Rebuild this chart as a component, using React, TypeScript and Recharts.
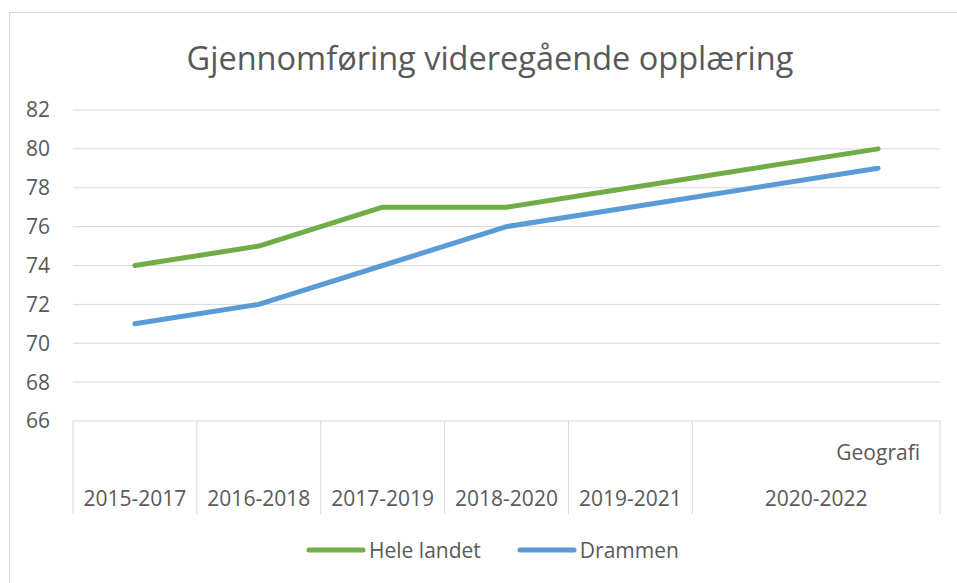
import { LineChart, Line, XAxis, YAxis, CartesianGrid, Legend } from 'recharts';

const periods = ['2015-2017', '2016-2018', '2017-2019', '2018-2020', '2019-2021', '2020-2022', '2020-2022'];
const subLabels = ['', '', '', '', '', '', 'Geografi'];
const seriesNames = ['Hele landet', 'Drammen'];
const heleLandet = [74, 75, 77, 77, 78, null, 80];
const drammen = [71, 72, 74, 76, 77, null, 79];
const yTicks = [66, 68, 70, 72, 74, 76, 78, 80, 82];

const data = periods.map((p, i) => ({
  slot: `${p}-${i}`,
  hele: heleLandet[i],
  drammen: drammen[i],
}));

const FONT = '"Open Sans", sans-serif';
const TEXT = '#595959';
const GRID = '#d9d9d9';
const WIDTH = 957;
const HEIGHT = 583;
const PLOT_LEFT = 73;
const PLOT_RIGHT = 940;
const Y_AXIS_W = 60;
const X_AXIS_H = 100;
const SLOT = (PLOT_RIGHT - PLOT_LEFT) / periods.length;

function CategoryTick(props: any) {
  const { x, y, payload } = props;
  const i = payload.index ?? props.index;
  const period = periods[i];
  const first = i === 0 || periods[i - 1] !== period;
  let end = i;
  while (end + 1 < periods.length && periods[end + 1] === period) end++;
  const left = x - SLOT / 2;
  const bottom = y + 93;
  const center = x + ((end - i) * SLOT) / 2;
  return (
    <g>
      {first && <line x1={left} x2={left} y1={y} y2={bottom} stroke={GRID} />}
      {i === periods.length - 1 && (
        <line x1={x + SLOT / 2} x2={x + SLOT / 2} y1={y} y2={bottom} stroke={GRID} />
      )}
      {first && (
        <text x={center} y={y + 85} textAnchor="middle" fill={TEXT} fontSize={21} fontFamily={FONT}>
          {period}
        </text>
      )}
      {subLabels[i] && (
        <text x={x + SLOT / 2 - 20} y={y + 39} textAnchor="end" fill={TEXT} fontSize={21} fontFamily={FONT}>
          {subLabels[i]}
        </text>
      )}
    </g>
  );
}

function LegendContent(props: any) {
  const items = [...(props.payload || [])].sort(
    (a: any, b: any) => seriesNames.indexOf(a.value) - seriesNames.indexOf(b.value)
  );
  return (
    <div style={{ display: 'flex', alignItems: 'center', height: 30, fontFamily: FONT, fontSize: 21, color: TEXT }}>
      {items.map((it: any, k: number) => (
        <div key={it.value} style={{ display: 'flex', alignItems: 'center', marginLeft: k === 0 ? 0 : 36 }}>
          <svg width={60} height={10} style={{ display: 'block' }}>
            <line x1={3} x2={57} y1={5} y2={5} stroke={it.color} strokeWidth={5} strokeLinecap="round" />
          </svg>
          <span style={{ marginLeft: 3, lineHeight: '30px' }}>{it.value}</span>
        </div>
      ))}
    </div>
  );
}

export default function App() {
  return (
    <div style={{ position: 'absolute', left: 0, top: 0, width: WIDTH, height: HEIGHT, overflow: 'hidden', background: '#fff' }}>
      <div style={{ position: 'absolute', left: 9, top: 12, width: 1000, height: 1000, border: `1px solid ${GRID}` }} />
      <div
        style={{
          position: 'absolute',
          left: 0,
          top: 42,
          width: 980,
          textAlign: 'center',
          fontFamily: FONT,
          fontSize: 32.5,
          lineHeight: '32px',
          color: TEXT,
          whiteSpace: 'nowrap',
        }}
      >
        Gjennomføring videregående opplæring
      </div>
      <div style={{ position: 'absolute', left: 0, top: 0 }}>
        <LineChart
          width={WIDTH}
          height={HEIGHT}
          data={data}
          margin={{ top: 110, right: WIDTH - PLOT_RIGHT, bottom: HEIGHT - 421 - X_AXIS_H, left: PLOT_LEFT - Y_AXIS_W }}
          style={{ fontFamily: FONT }}
        >
          <CartesianGrid vertical={false} stroke={GRID} />
          <XAxis
            dataKey="slot"
            height={X_AXIS_H}
            padding={{ left: SLOT / 2, right: SLOT / 2 }}
            axisLine={false}
            tickLine={false}
            tickSize={0}
            tickMargin={0}
            interval={0}
            tick={<CategoryTick />}
          />
          <YAxis
            width={Y_AXIS_W}
            domain={[66, 82]}
            ticks={yTicks}
            axisLine={false}
            tickLine={false}
            tickSize={0}
            tickMargin={23}
            tick={{ fill: TEXT, fontSize: 21, fontFamily: FONT }}
          />
          <Legend
            layout="horizontal"
            verticalAlign="middle"
            content={<LegendContent />}
            wrapperStyle={{ top: 535, left: 306, width: 'auto' }}
          />
          <Line
            dataKey="hele"
            name={seriesNames[0]}
            stroke="#70ad47"
            strokeWidth={5}
            strokeLinecap="round"
            strokeLinejoin="round"
            dot={false}
            activeDot={false}
            connectNulls
            isAnimationActive={false}
          />
          <Line
            dataKey="drammen"
            name={seriesNames[1]}
            stroke="#5b9bd5"
            strokeWidth={5}
            strokeLinecap="round"
            strokeLinejoin="round"
            dot={false}
            activeDot={false}
            connectNulls
            isAnimationActive={false}
          />
        </LineChart>
      </div>
    </div>
  );
}
